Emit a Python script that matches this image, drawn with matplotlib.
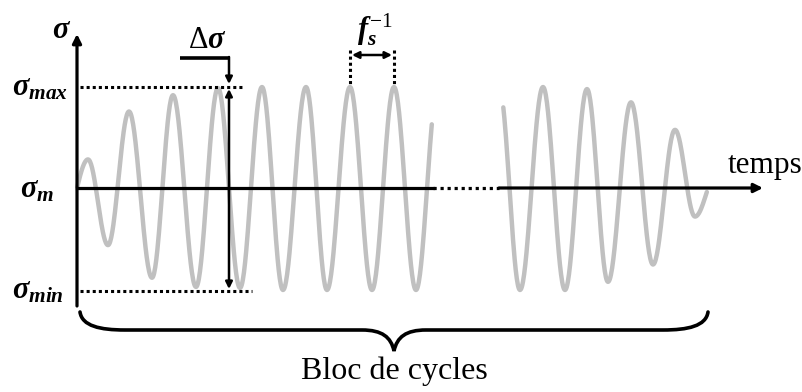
import numpy as np
import matplotlib
matplotlib.use('Agg')
import matplotlib.pyplot as plt
from matplotlib.path import Path
from matplotlib.patches import PathPatch

plt.rcParams['font.family'] = ['Liberation Serif', 'DejaVu Serif']
plt.rcParams['mathtext.fontset'] = 'custom'
plt.rcParams['mathtext.rm'] = 'Liberation Serif'
plt.rcParams['mathtext.it'] = 'Liberation Serif:italic:bold'
plt.rcParams['mathtext.bf'] = 'Liberation Serif:bold'

# wave extrema (time, stress), first and last points are virtual, curve is cut
t_first = [66, 88, 108, 129, 152, 173, 196, 218, 240, 262, 283, 306, 327, 350,
           372, 394, 416, 438]
s_first = [-0.28, 0.28, -0.56, 0.75, -0.88, 0.91, -0.97, 0.98, -0.98, 0.99,
           -1.0, 0.99, -1.0, 0.99, -1.0, 0.99, -1.0, 0.99]
cut_first = (77, 432)

t_last = [499, 520, 543, 565, 587, 608, 631, 653, 675, 695, 717]
s_last = [0.99, -1.0, 0.99, -1.0, 0.97, -0.92, 0.84, -0.75, 0.57, -0.28, 0.15]
cut_last = (503, 707)


def Y(py):
    # pixel row -> stress units
    return (188 - py) / 102.0


def wave(times, stresses, cut):
    tt, ss = [], []
    for i in range(len(times) - 1):
        u = np.linspace(0, 1, 40)
        t = times[i] + (times[i + 1] - times[i]) * u
        s = stresses[i] + (stresses[i + 1] - stresses[i]) * (1 - np.cos(np.pi * u)) / 2
        tt.append(t)
        ss.append(s)
    tt = np.concatenate(tt)
    ss = np.concatenate(ss)
    m = (tt >= cut[0]) & (tt <= cut[1])
    return tt[m], ss[m]


fig = plt.figure(figsize=(8.03, 3.92), dpi=100)
ax = fig.add_axes([0, 0, 1, 1])
ax.set_xlim(0, 803)
ax.set_ylim(Y(392), Y(0))
ax.axis('off')

grey = '#c0c0c0'
for tv, sv, cut in [(t_first, s_first, cut_first), (t_last, s_last, cut_last)]:
    x, y = wave(tv, sv, cut)
    ax.plot(x, y, color=grey, lw=3.2, solid_capstyle='round', zorder=2)

k = 'black'
lw_ax = 2.3
arrow = dict(arrowstyle='-|>', mutation_scale=13, lw=lw_ax, color=k,
             shrinkA=0, shrinkB=0)

# vertical axis
ax.annotate('', xy=(77, Y(34)), xytext=(77, Y(306)), arrowprops=arrow, zorder=3)
# horizontal axis
ax.plot([77, 433], [0, 0], color=k, lw=lw_ax, zorder=3)
ax.plot([433, 499], [0, 0], color=k, lw=lw_ax, dashes=(1.0, 1.2), zorder=3)
ax.annotate('', xy=(763, 0), xytext=(499, 0), arrowprops=arrow, zorder=3)

# sigma max / min dotted lines
dot = dict(color=k, lw=2.2, dashes=(1.0, 1.0), zorder=3)
ax.plot([80, 244], [Y(87), Y(87)], **dot)
ax.plot([80, 252], [Y(291), Y(291)], **dot)

# delta sigma
small = dict(arrowstyle='-|>', mutation_scale=10, lw=1.8, color=k,
             shrinkA=0, shrinkB=0)
ax.plot([180, 230], [Y(58), Y(58)], color=k, lw=2.6, solid_capstyle='butt', zorder=3)
ax.annotate('', xy=(229, Y(84)), xytext=(229, Y(57)), arrowprops=small, zorder=3)
both = dict(arrowstyle='<|-|>', mutation_scale=10, lw=1.8, color=k,
            shrinkA=0, shrinkB=0)
ax.annotate('', xy=(229, Y(89)), xytext=(229, Y(289)), arrowprops=both, zorder=3)

# period
ax.plot([350, 350], [Y(50), Y(84)], **dot)
ax.plot([394, 394], [Y(50), Y(84)], **dot)
ax.annotate('', xy=(352, Y(55)), xytext=(392, Y(55)), arrowprops=both, zorder=3)

# brace
verts = [(80, Y(312)), (82, Y(326)), (100, Y(330)), (125, Y(330)),
         (362, Y(330)),
         (382, Y(330)), (391, Y(337)), (394, Y(351)),
         (397, Y(337)), (406, Y(330)), (426, Y(330)),
         (663, Y(330)),
         (688, Y(330)), (706, Y(326)), (708, Y(312))]
codes = [Path.MOVETO, Path.CURVE4, Path.CURVE4, Path.CURVE4,
         Path.LINETO,
         Path.CURVE4, Path.CURVE4, Path.CURVE4,
         Path.CURVE4, Path.CURVE4, Path.CURVE4,
         Path.LINETO,
         Path.CURVE4, Path.CURVE4, Path.CURVE4]
ax.add_patch(PathPatch(Path(verts, codes), fill=False, lw=2.6, color=k,
                       capstyle='round', zorder=3))

# labels
fs = 22
ax.text(62, Y(30), r'$\sigma$', fontsize=fs, ha='center', va='center')
ax.text(40, Y(88), r'$\sigma_{max}$', fontsize=fs, ha='center', va='center')
ax.text(37, Y(190), r'$\sigma_m$', fontsize=fs, ha='center', va='center')
ax.text(38, Y(291), r'$\sigma_{min}$', fontsize=fs, ha='center', va='center')
ax.text(207, Y(40), r'$\mathrm{\Delta}\sigma$', fontsize=fs, ha='center', va='center')
ax.text(375, Y(30), r'$f_s^{-1}$', fontsize=fs, ha='center', va='center')
ax.text(765, Y(166), 'temps', fontsize=22.5, ha='center', va='center')
ax.text(394, Y(371), 'Bloc de cycles', fontsize=23, ha='center', va='center')

plt.savefig('out.png', dpi=100)
